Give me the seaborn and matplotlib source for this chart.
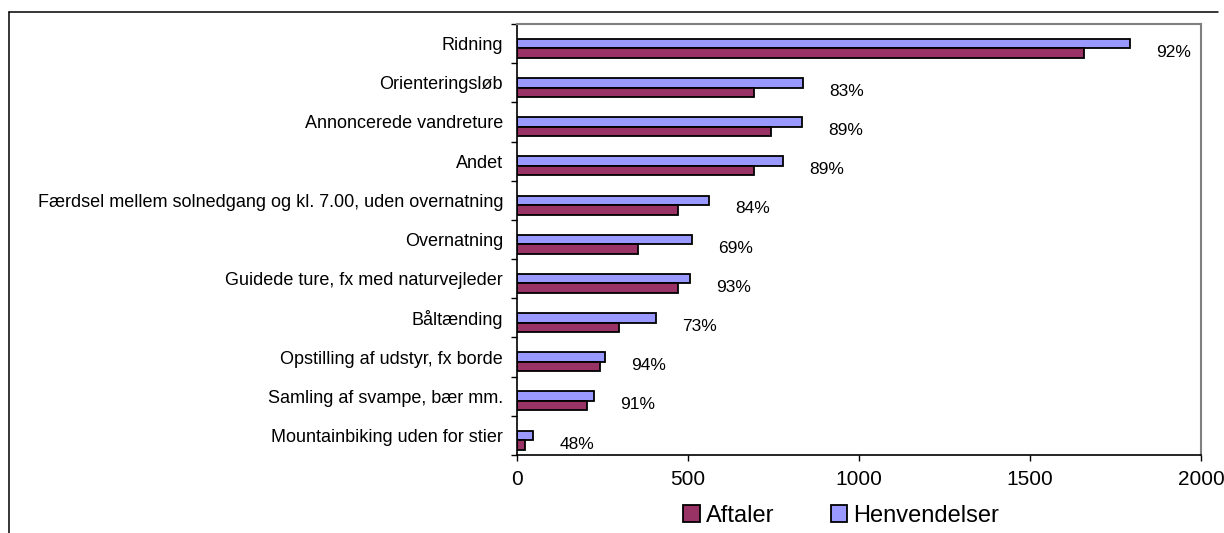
import matplotlib
matplotlib.use("Agg")
import matplotlib.pyplot as plt
import seaborn as sns
import pandas as pd
from matplotlib.patches import Patch
from matplotlib.lines import Line2D

categories = ["Ridning", "Orienteringsløb", "Annoncerede vandreture", "Andet",
              "Færdsel mellem solnedgang og kl. 7.00, uden overnatning", "Overnatning",
              "Guidede ture, fx med naturvejleder", "Båltænding",
              "Opstilling af udstyr, fx borde", "Samling af svampe, bær mm.",
              "Mountainbiking uden for stier"]
aftaler = [1657, 692, 744, 692, 470, 355, 471, 298, 242, 205, 22]
henvendelser = [1791, 836, 834, 778, 560, 512, 505, 407, 257, 225, 46]
pct_labels = ["92%", "83%", "89%", "89%", "84%", "69%", "93%", "73%", "94%", "91%", "48%"]
series_names = ["Aftaler", "Henvendelser"]
x_ticks = [0, 500, 1000, 1500, 2000]

c_aft = "#993366"
c_henv = "#9999FF"

sns.set_theme(style="white")
plt.rcParams["font.family"] = ["Liberation Sans", "DejaVu Sans"]
plt.rcParams["text.color"] = "black"

n = len(categories)
spacer = "_spacer"
df = pd.DataFrame({
    "Kategori": categories * 3,
    "Serie": [spacer] * n + ["Henvendelser"] * n + ["Aftaler"] * n,
    "Antal": [0] * n + henvendelser + aftaler,
})

fig = plt.figure(figsize=(12.24, 5.33), dpi=100)
ax = fig.add_axes([517 / 1224, 1 - 455 / 533, (1201 - 517) / 1224, (455 - 24) / 533])

sns.barplot(data=df, y="Kategori", x="Antal", hue="Serie", order=categories,
            hue_order=[spacer, "Henvendelser", "Aftaler"],
            palette={spacer: "white", "Henvendelser": c_henv, "Aftaler": c_aft},
            width=0.727, orient="h", edgecolor="black", linewidth=1.3,
            saturation=1, errorbar=None, legend=False, ax=ax)

for p in ax.patches:
    if p.get_width() == 0:
        p.set_visible(False)

for i, (h, lab) in enumerate(zip(henvendelser, pct_labels)):
    ax.text(h + 128, i + 0.22, lab, ha="center", va="center", fontsize=12.5, color="black")

ax.set_xlim(0, 2000)
ax.set_xticks(x_ticks)
ax.set_xticklabels([str(t) for t in x_ticks])
ax.set_ylim(n - 0.5, -0.5)
ax.set_yticks(range(n))
ax.set_yticklabels(categories)
ax.set_yticks([i - 0.5 for i in range(n + 1)], minor=True)
ax.set_xlabel("")
ax.set_ylabel("")

ax.tick_params(axis="x", which="major", bottom=True, length=4.5, width=1, color="black",
               direction="out", labelsize=15, pad=6, labelcolor="black")
ax.tick_params(axis="y", which="major", left=True, length=0, labelsize=13, pad=10,
               labelcolor="black")
ax.tick_params(axis="y", which="minor", left=True, length=4, width=1, color="black",
               direction="out")

for s in ["left", "bottom"]:
    ax.spines[s].set_color("black")
    ax.spines[s].set_linewidth(1.2)
for s in ["top", "right"]:
    ax.spines[s].set_color("#808080")
    ax.spines[s].set_linewidth(1.5)

handles = [Patch(facecolor=c_aft, edgecolor="black", linewidth=1.3, label=series_names[0]),
           Patch(facecolor=c_henv, edgecolor="black", linewidth=1.3, label=series_names[1])]
leg = fig.legend(handles=handles, loc="center", bbox_to_anchor=(841 / 1224, 1 - 516 / 533),
                 ncol=2, frameon=False, fontsize=17, handlelength=0.7, handleheight=0.7,
                 handletextpad=0.25, columnspacing=2.4, borderaxespad=0, borderpad=0)
for t in leg.get_texts():
    t.set_color("black")

fig.add_artist(Line2D([8.5 / 1224, 1218 / 1224], [1 - 12 / 533, 1 - 12 / 533],
                      transform=fig.transFigure, color="black", linewidth=1.1))
fig.add_artist(Line2D([8.5 / 1224, 8.5 / 1224], [1 - 12 / 533, 0],
                      transform=fig.transFigure, color="black", linewidth=1.1))

fig.savefig("out.png", dpi=100, facecolor="white")
